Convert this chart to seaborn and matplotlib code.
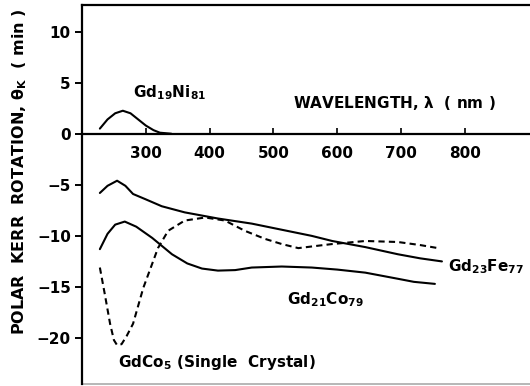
import matplotlib
matplotlib.use("Agg")
import numpy as np
import pandas as pd
import matplotlib.pyplot as plt
import seaborn as sns

# ==============================================================================
# DATOS
# ==============================================================================
ni_x = [228, 240, 252, 264, 276, 288, 300, 312, 322, 340]
ni_y = [0.5, 1.4, 2.0, 2.25, 2.0, 1.4, 0.8, 0.35, 0.1, 0.0]

fe_x = [228, 240, 255, 268, 280, 299, 325, 361, 413, 466, 513, 560, 592, 644, 695, 730, 764]
fe_y = [-5.8, -5.1, -4.6, -5.1, -5.9, -6.4, -7.1, -7.7, -8.3, -8.8, -9.4, -10.0,
        -10.5, -11.1, -11.8, -12.2, -12.5]

co_x = [228, 240, 252, 267, 285, 310, 341, 365, 388, 413, 440, 466, 513, 560,
        600, 644, 695, 720, 753]
co_y = [-11.3, -9.8, -8.9, -8.6, -9.1, -10.2, -11.8, -12.7, -13.2, -13.4, -13.35,
        -13.1, -13.0, -13.1, -13.3, -13.6, -14.2, -14.5, -14.7]

co5_x = [228, 236, 244, 250, 255, 262, 270, 280, 296, 319, 335, 361, 393, 424,
         455, 487, 513, 539, 565, 592, 644, 695, 730, 758]
co5_y = [-13.1, -15.8, -18.6, -20.2, -20.7, -20.6, -19.8, -18.6, -15.1, -11.2,
         -9.5, -8.5, -8.2, -8.5, -9.5, -10.3, -10.8, -11.2, -11.0, -10.8, -10.5,
         -10.6, -10.9, -11.2]

x_ticks = [300, 400, 500, 600, 700, 800]
y_ticks = [10, 5, 0, -5, -10, -15, -20]
y_labels = ["10", "5", "0", "\u22125", "\u221210", "\u221215", "\u221220"]

sns.set_theme(style="ticks")
plt.rcParams["font.family"] = ["DejaVu Sans"]

fig = plt.figure(figsize=(5.3, 3.86), dpi=100)
ax = fig.add_axes([82 / 530, 2 / 386, 1 - 82 / 530, 379 / 386])

estilo = dict(color="black", linewidth=1.5, legend=False, ax=ax, sort=False)
sns.lineplot(x=ni_x, y=ni_y, **estilo)
sns.lineplot(x=fe_x, y=fe_y, **estilo)
sns.lineplot(x=co_x, y=co_y, **estilo)
sns.lineplot(x=co5_x, y=co5_y, linestyle=(0, (3, 2)), **estilo)

ax.set_xlim(200, 902)
ax.set_ylim(-24.5, 12.6)

# eje x en y = 0
ax.spines["bottom"].set_position(("data", 0))
for s in ["bottom", "left", "top"]:
    ax.spines[s].set_linewidth(1.6)
    ax.spines[s].set_color("black")
ax.spines["right"].set_visible(False)
ax.axhline(ax.get_ylim()[0], color="#aaaaaa", linewidth=1.2, clip_on=False)

ax.set_xticks(x_ticks)
ax.set_xticklabels([str(t) for t in x_ticks], fontsize=11, fontweight="bold")
ax.tick_params(axis="x", direction="in", length=4, width=1.2, pad=9, colors="black")
ax.set_yticks(y_ticks)
ax.set_yticklabels(y_labels, fontsize=11, fontweight="bold")
ax.tick_params(axis="y", direction="out", length=5, width=1.4, pad=3, colors="black")

txt = dict(fontsize=11, fontweight="bold", color="black")
ax.text(280, 3.6, r"Gd$_{\mathbf{19}}$Ni$_{\mathbf{81}}$", **txt)
ax.text(531, 2.5, r"WAVELENGTH, $\mathbf{\lambda}$  ( nm )", **txt)
ax.text(774, -13.5, r"Gd$_{\mathbf{23}}$Fe$_{\mathbf{77}}$", **txt)
ax.text(521, -16.7, r"Gd$_{\mathbf{21}}$Co$_{\mathbf{79}}$", **txt)
ax.text(256, -22.8, r"GdCo$_{\mathbf{5}}$ (Single  Crystal)", **txt)

fig.text(20 / 530, 1 - 172 / 386, r"POLAR  KERR  ROTATION, $\mathbf{\theta_K}$  ( min )",
         rotation=90, ha="center", va="center", fontsize=11.5, fontweight="bold",
         color="black")

fig.savefig("out.png", dpi=100)
